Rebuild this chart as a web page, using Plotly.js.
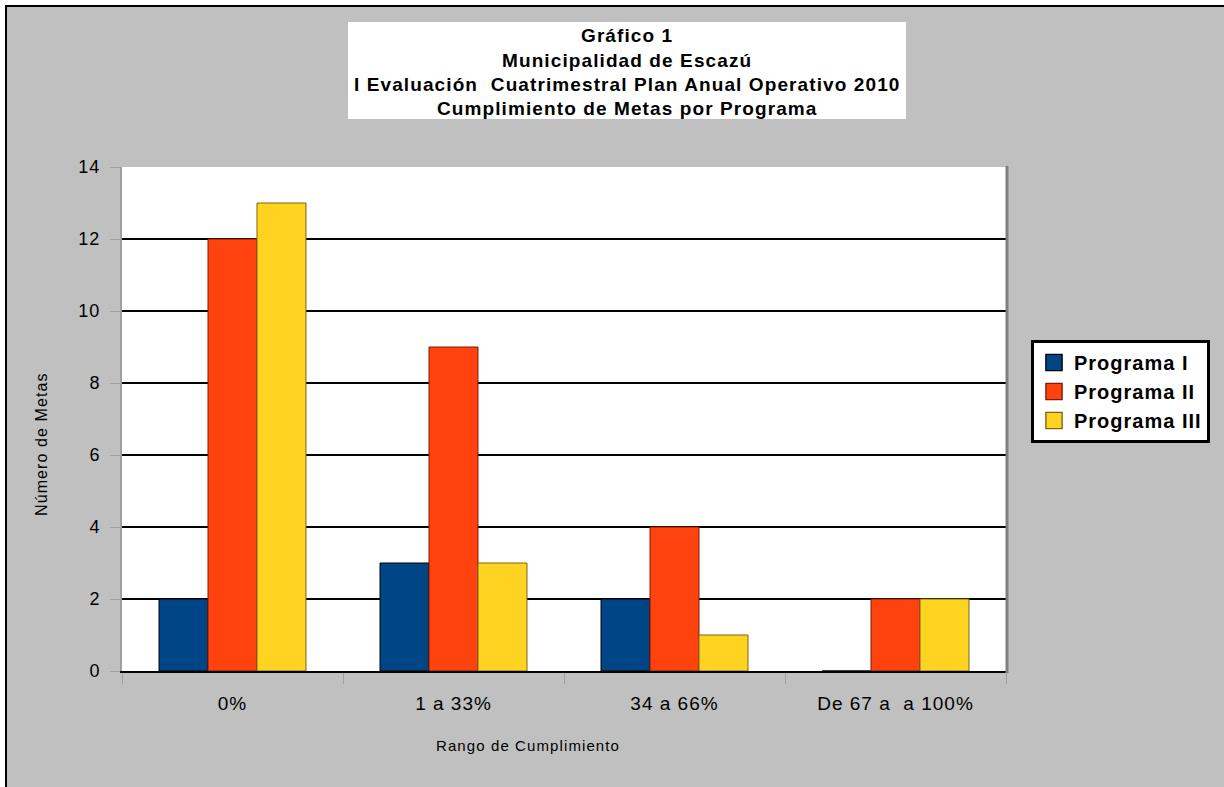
<!DOCTYPE html>
<html><head><meta charset="utf-8">
<script src="https://cdn.plot.ly/plotly-3.0.1.min.js"></script>
<style>
html,body{margin:0;padding:0;background:#fff;}
#wrap{position:relative;width:1224px;height:787px;overflow:hidden;background:#fff;}
#chart{position:absolute;left:5px;top:5px;width:1217px;height:780px;border-left:2px solid #000;border-top:2px solid #000;}
text.legendtext{letter-spacing:1px;}
text.annotation-text{letter-spacing:1.1px;}
#chart .xtick text, #chart .ytick text{letter-spacing:1px;}
</style></head><body>
<div id="wrap"><div id="chart"></div></div>
<script>
const categories = ['0%', '1 a 33%', '34 a 66%', 'De 67 a  a 100%'];
const seriesNames = ['Programa I', 'Programa II', 'Programa III'];
const programaI = [2, 3, 2, 0];
const programaII = [12, 9, 4, 2];
const programaIII = [13, 3, 1, 2];
const yTicks = [0, 2, 4, 6, 8, 10, 12, 14];
const titleLines = ['Gráfico 1', 'Municipalidad de Escazú', 'I Evaluación  Cuatrimestral Plan Anual Operativo 2010', 'Cumplimiento de Metas por Programa'];
const xTitle = 'Rango de Cumplimiento';
const yTitle = 'Número de Metas';

const colors = ['#004586', '#ff420e', '#ffd320'];
const lineColors = ['#000000', '#7a1d05', '#7a6510'];
const values = [programaI, programaII, programaIII];

const FONT = 'Liberation Sans, Arial, sans-serif';
const traces = values.map((v, i) => ({
  type: 'bar', name: seriesNames[i], x: categories, y: v,
  marker: {color: colors[i], line: {color: lineColors[i], width: 1}}
}));

// plot area in page px: x 122..1006, y 167..671
const L = 122, R = 1006, T = 167, B = 671;
const px = p => (p - L) / (R - L);
const py = p => (B - p) / (B - T);

const titleY = [35, 60, 84.5, 109];
const annotations = titleLines.map((t, i) => ({
  xref: 'paper', yref: 'paper', x: px(627), y: py(titleY[i]), xanchor: 'center', yanchor: 'middle',
  text: '<b>' + t + '</b>', showarrow: false,
  font: {family: FONT, size: 19, color: '#000'}
}));
annotations.push({
  xref: 'paper', yref: 'paper', x: px(528), y: py(745), xanchor: 'center', yanchor: 'middle',
  text: xTitle, showarrow: false, font: {family: FONT, size: 15, color: '#000'}
});
annotations.push({
  xref: 'paper', yref: 'paper', x: px(41), y: py(444), xanchor: 'center', yanchor: 'middle',
  text: yTitle, showarrow: false, textangle: -90, font: {family: FONT, size: 16, color: '#000'}
});

const layout = {
  width: 1217, height: 780,
  margin: {l: 115, r: 218, t: 160, b: 116, pad: 0},
  paper_bgcolor: '#c0c0c0', plot_bgcolor: '#ffffff',
  font: {family: FONT, color: '#000'},
  barmode: 'group', bargap: 0.335, bargroupgap: 0,
  showlegend: true,
  legend: {
    x: px(1031), y: py(340), xanchor: 'left', yanchor: 'top',
    bgcolor: '#ffffff', bordercolor: '#000', borderwidth: 3,
    font: {family: FONT, size: 20, color: '#000', weight: 'bold'},
    itemwidth: 30
  },
  xaxis: {
    type: 'category', tickson: 'boundaries', ticks: 'outside', ticklen: 11, tickcolor: '#a0a0a0', tickwidth: 1,
    ticklabelstandoff: 14,
    showline: true, linecolor: '#000', linewidth: 2, showgrid: false, zeroline: false,
    tickfont: {family: FONT, size: 19, color: '#000'},
    fixedrange: true
  },
  yaxis: {
    range: [0, 14], tickvals: yTicks, ticktext: yTicks.map(String),
    ticks: 'outside', ticklen: 10, tickcolor: '#a0a0a0', tickwidth: 1,
    ticklabelstandoff: 6,
    showline: true, linecolor: '#a0a0a0', linewidth: 2,
    showgrid: true, gridcolor: '#000', gridwidth: 2, zeroline: false,
    tickfont: {family: FONT, size: 18, color: '#000'},
    fixedrange: true
  },
  shapes: [
    {type: 'rect', xref: 'paper', yref: 'paper', x0: px(348), x1: px(906), y0: py(119), y1: py(22),
     fillcolor: '#ffffff', line: {width: 0}, layer: 'below'},
    {type: 'line', xref: 'paper', yref: 'paper', x0: px(1007), x1: px(1007), y0: py(673), y1: py(166),
     line: {color: '#808080', width: 3}}
  ],
  annotations: annotations
};

Plotly.newPlot('chart', traces, layout, {displayModeBar: false, staticPlot: true}).then(() => {
  document.querySelectorAll('#chart .legendpoints path').forEach(p => {
    const t = p.getAttribute('transform') || '';
    p.setAttribute('transform', t + ' scale(1.35)');
  });
});
</script></body></html>
